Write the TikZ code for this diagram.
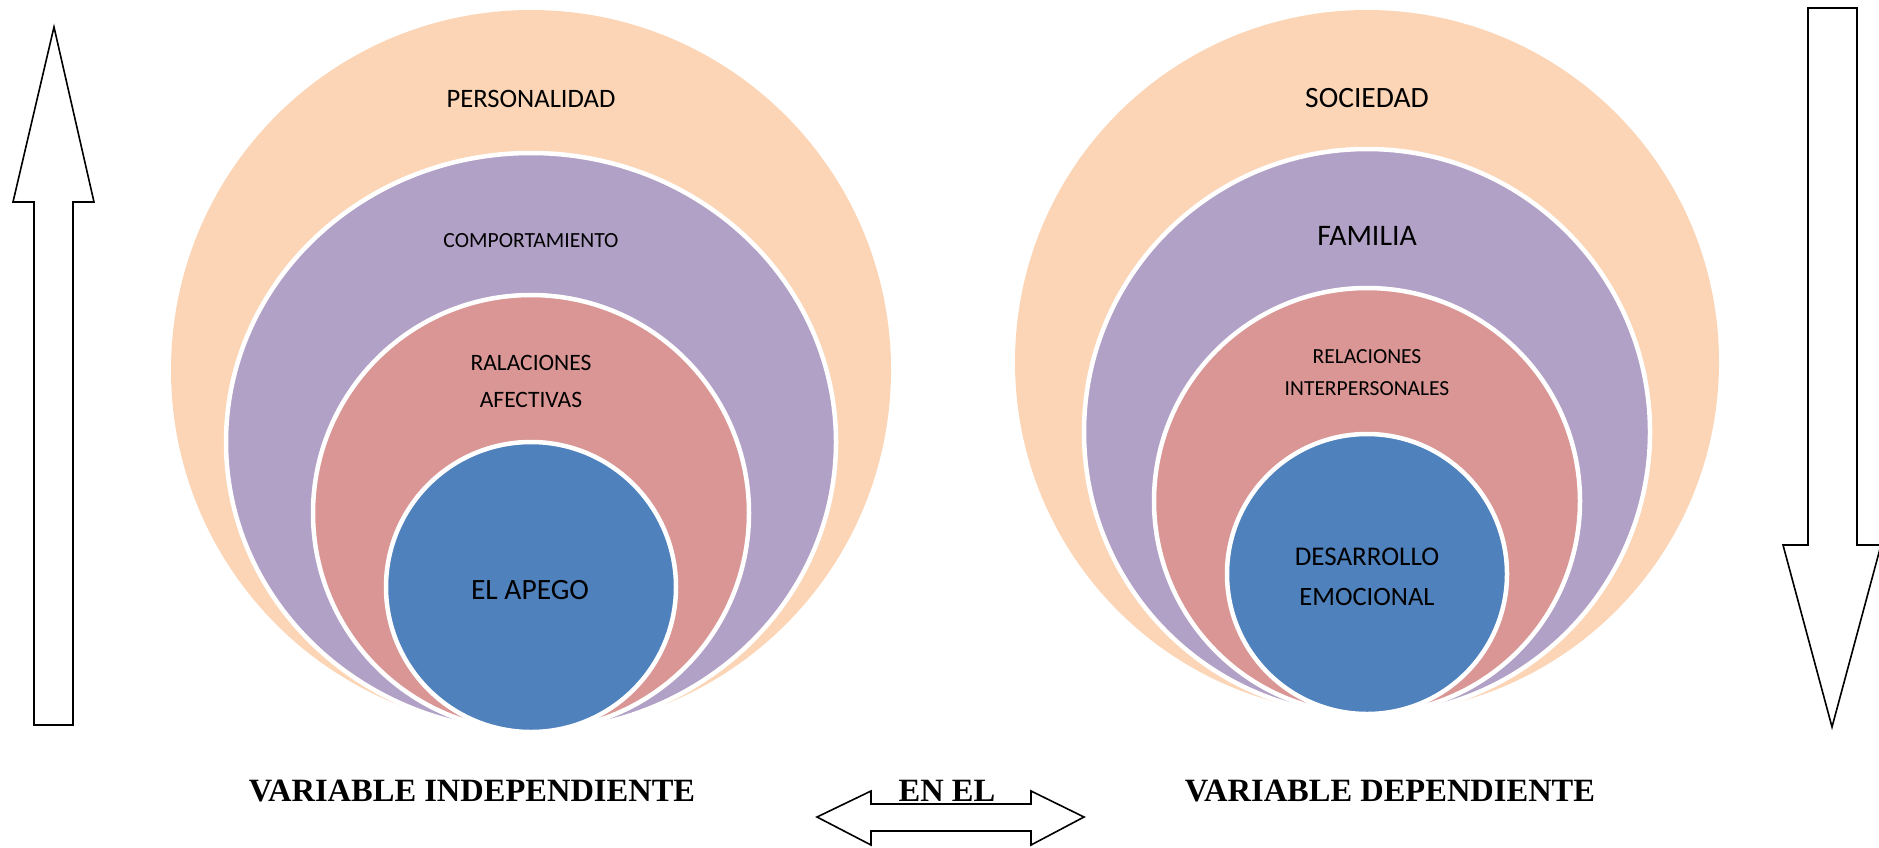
\documentclass[tikz,border=0pt]{standalone}
\usepackage{fontspec}
\setmainfont{Liberation Serif}
\newfontfamily\calibri{Carlito}
\definecolor{peach}{HTML}{FBD5B5}
\definecolor{lilac}{HTML}{B2A1C7}
\definecolor{rose}{HTML}{D99694}
\definecolor{steel}{HTML}{4F81BD}
\tikzset{
  ring/.style={fill=#1, draw=white, line width=4.5pt},
  blockarrow/.style={draw=black, fill=white, line width=1.6pt, line join=miter},
  tag/.style={anchor=base, inner sep=0pt, font=\calibri},
  caption/.style={anchor=base, inner sep=0pt, font=\bfseries\fontsize{32.5}{32.5}\selectfont}
}
\begin{document}
\begin{tikzpicture}[x=1pt, y=-1pt]
\useasboundingbox (0,0) rectangle (1879,847);
% rings, outer to inner
\fill[peach] (531,370) circle (360pt);
\fill[peach] (1367,362) circle (352pt);
\foreach \c/\x/\y/\rx/\ry in {lilac/531/442/305/289, rose/531/513/218/218, steel/531/587/145/145,
  lilac/1367/432/283/283, rose/1367/501/213/213, steel/1367/574/140/140}
  \draw[ring=\c] (\x,\y) ellipse [x radius=\rx pt, y radius=\ry pt];
% labels
\foreach \n/\x/\y/\s/\t in {personalidad/531/107/26.6/PERSONALIDAD, comportamiento/531/247/21.6/COMPORTAMIENTO,
  ralaciones/531/370/23.5/RALACIONES, afectivas/531/407/23.5/AFECTIVAS, apego/530/599/29.5/EL APEGO,
  sociedad/1367/107/29.5/SOCIEDAD, familia/1367/245/29.8/FAMILIA,
  relaciones/1367/363/21.5/RELACIONES, interpersonales/1367/395/21.5/INTERPERSONALES,
  desarrollo/1367/565/27/DESARROLLO, emocional/1367/605/26.5/EMOCIONAL}
  \node[tag] (\n) at (\x,\y) {\fontsize{\s}{\s}\selectfont \t};
% block arrows
\draw[blockarrow] (54,27) -- (94,202) -- (73,202) -- (73,725) -- (34,725) -- (34,202) -- (13,202) -- cycle;
\draw[blockarrow] (1808,8) -- (1857,8) -- (1857,545) -- (1881,545) -- (1832,727) -- (1783,545) -- (1808,545) -- cycle;
\draw[blockarrow] (817,817) -- (871,791) -- (871,804) -- (1031,804) -- (1031,791) -- (1084,817)
  -- (1031,845) -- (1031,831) -- (871,831) -- (871,845) -- cycle;
% captions
\node[caption] (indep) at (472,801) {VARIABLE INDEPENDIENTE};
\node[caption] (enel) at (947,801) {EN EL};
\node[caption] (dep) at (1390,801) {VARIABLE DEPENDIENTE};
\end{tikzpicture}
\end{document}
